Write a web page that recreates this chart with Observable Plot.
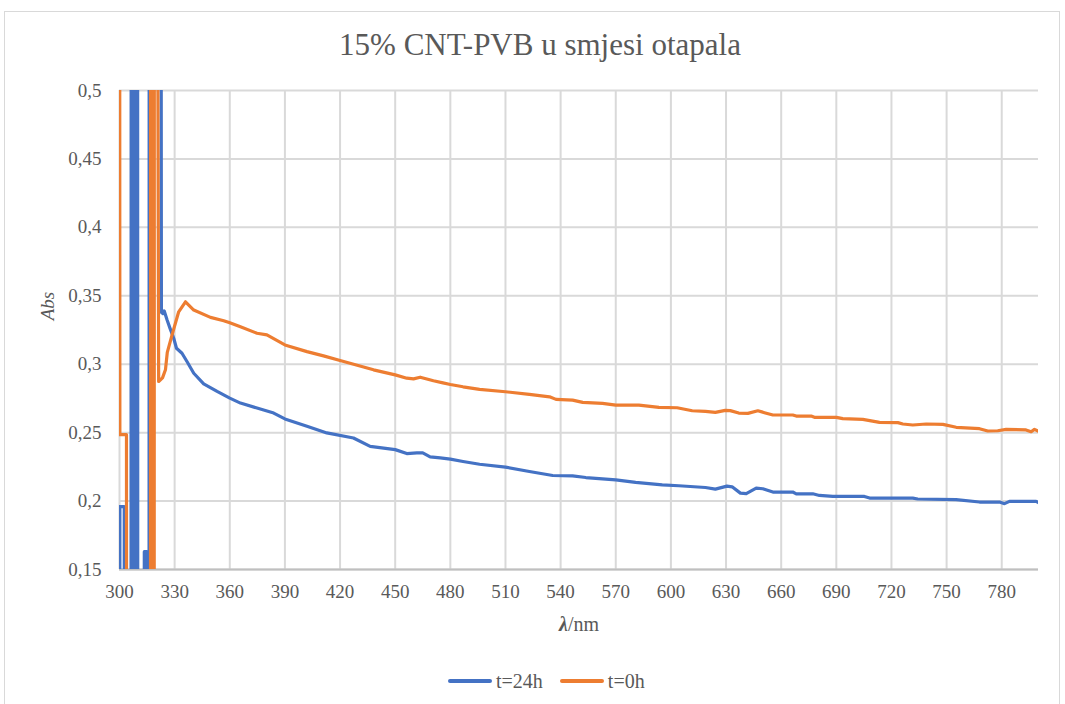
<!DOCTYPE html>
<html>
<head>
<meta charset="utf-8">
<script src="https://cdn.jsdelivr.net/npm/d3@7"></script>
<script src="https://cdn.jsdelivr.net/npm/@observablehq/plot@0.6"></script>
<style>
  @font-face { font-family: "ChartSerif"; src: local("Liberation Serif"), local("LiberationSerif"), local("LiberationSerif-Regular"); font-style: normal; font-weight: 400; }
  @font-face { font-family: "ChartSerif"; src: local("Liberation Serif Italic"), local("LiberationSerif-Italic"); font-style: italic; font-weight: 400; }
  @font-face { font-family: "ChartSerif"; src: local("Liberation Serif Bold Italic"), local("LiberationSerif-BoldItalic"); font-style: italic; font-weight: 700; }
  html, body { margin: 0; padding: 0; background: #fff; }
</style>
</head>
<body style='font-family:"Liberation Serif", "Times New Roman", Times;'>
<div id="wrap" style='position:relative;width:1065px;height:704px;overflow:hidden;color:#595959;font-family:"Liberation Serif", "ChartSerif", "Times New Roman", Times;'>
  <div style="position:absolute;left:4px;top:11px;width:1056px;height:720px;border:1px solid #d9d9d9;box-sizing:border-box;"></div>
  <div id="chart" style="position:absolute;left:0;top:0;"></div>
  <div id="title" style='position:absolute;left:0;top:30px;width:1080px;text-align:center;font-size:31px;line-height:30px;white-space:nowrap;font-family:"Liberation Serif", "ChartSerif", "Times New Roman", Times;'>15% CNT-PVB u smjesi otapala</div>
  <div id="ylabel" style='position:absolute;left:47px;top:306px;transform:translate(-50%,-50%) rotate(-90deg);font-size:19px;font-style:italic;line-height:19px;white-space:nowrap;font-family:"Liberation Serif", "ChartSerif", "Times New Roman", Times;'>Abs</div>
  <div id="xlabel" style='position:absolute;left:579px;top:614px;transform:translateX(-50%);font-size:20px;line-height:20px;white-space:nowrap;font-family:"Liberation Serif", "ChartSerif", "Times New Roman", Times;'><b style="font-style:italic;font-weight:bold;">λ</b>/nm</div>
  <div id="legend" style='position:absolute;left:448px;top:671px;display:flex;align-items:center;font-size:20px;line-height:20px;white-space:nowrap;font-family:"Liberation Serif", "ChartSerif", "Times New Roman", Times;'></div>
</div>
<script>
// ---- series names and colours ----
const seriesNames = ["t=24h", "t=0h"];
const seriesColors = ["#4472C4", "#ED7D31"];

// ---- axis ticks ----
const xTicks = [300, 330, 360, 390, 420, 450, 480, 510, 540, 570, 600, 630, 660, 690, 720, 750, 780];
const yTicks = [0.15, 0.2, 0.25, 0.3, 0.35, 0.4, 0.45, 0.5];
const xDomain = [300, 800];
const yDomain = [0.15, 0.5];

// ---- t=24h (values outside 0.15–0.5 are off-scale spikes, clipped) ----
const wl24 = [300, 300.2, 302.6, 302.8, 306.2, 306.4, 307.6, 307.8, 308.2, 308.4, 309.8, 310,
  313.3, 313.5, 314.9, 315.1, 316.0, 316.2, 322.4, 322.8, 323.6, 324.3, 325.9, 327.5, 329.5, 331,
  334, 336.7, 340.4, 345.8, 353.1, 360, 365.8, 374.8, 383.9, 390, 402, 412.8, 427.3, 436.4, 450,
  456.3, 461.8, 465, 469, 474.5, 480, 486.9, 495.9, 510, 523, 535.7, 546.5, 553.7, 570, 580.8,
  595.3, 604.3, 618.8, 624.2, 630.5, 633.3, 637.8, 641, 646.4, 650, 655.5, 666.3, 668.2, 677.2,
  680.8, 688.1, 705.3, 708.1, 731.6, 734.3, 755.2, 767.9, 778.8, 781.5, 784.2, 798.7, 800];
const abs24 = [-0.5, 0.196, 0.196, -0.5, -0.5, 1.0, 1.0, -0.5, -0.5, 1.0, 1.0, -0.5,
  -0.5, 0.163, 0.163, -0.5, -0.5, 1.0, 1.0, 0.338, 0.337, 0.339, 0.3323, 0.3262, 0.319, 0.3117,
  0.308, 0.302, 0.2934, 0.2857, 0.2801, 0.2752, 0.2716, 0.268, 0.2643, 0.26, 0.2546, 0.2498, 0.2461, 0.24, 0.2376,
  0.2347, 0.2352, 0.2352, 0.2323, 0.2315, 0.2306, 0.2289, 0.2269, 0.2248, 0.2216, 0.2187, 0.2184, 0.2172, 0.2155, 0.2136,
  0.2119, 0.2112, 0.2099, 0.2087, 0.2109, 0.2104, 0.2058, 0.2055, 0.2095, 0.209, 0.2066, 0.2066, 0.2053, 0.2053,
  0.2041, 0.2034, 0.2034, 0.2022, 0.2022, 0.2015, 0.201, 0.1993, 0.1993, 0.1981, 0.1998, 0.1998, 0.1988];

// ---- t=0h ----
const wl0 = [300, 300.2, 303.8, 304.0, 316.8, 317.0, 318.2, 318.4, 318.8, 319.0, 320.0, 321.3,
  323.4, 325, 326, 328.6, 332.2, 335.9, 340.4, 349.5, 356.7, 360, 365.8, 374.8, 380.2, 390, 402,
  411, 420, 438.2, 450, 456.3, 460, 463.6, 470.8, 476, 480, 486.9, 495.9, 510, 523, 534, 537.5,
  546.5, 552, 562.8, 570, 582.6, 593.5, 603.4, 611.6, 618.8, 624.2, 629.6, 632.3, 636.9, 641.9,
  647.3, 650.9, 655.5, 666.3, 668.2, 676.3, 678.1, 690, 693.5, 704.4, 713.5, 723.5, 726.2, 731.6,
  738.9, 748, 755.2, 767.9, 772.4, 777.8, 782.4, 793.2, 796, 797.8, 800];
const abs0 = [1.0, 0.2485, 0.2485, -0.5, -0.5, 1.0, 1.0, -0.5, -0.5, 1.0, 1.0, 0.2874,
  0.29, 0.2959, 0.3087, 0.3214, 0.3383, 0.3456, 0.3396, 0.3342, 0.3318, 0.3303, 0.3274, 0.3226, 0.3214, 0.3141, 0.3092,
  0.3061, 0.3027, 0.2959, 0.2922, 0.2898, 0.2893, 0.2905, 0.2879, 0.2864, 0.2852, 0.2835, 0.2816, 0.2799, 0.2779, 0.2762, 0.2743,
  0.2738, 0.2721, 0.2714, 0.2701, 0.2701, 0.2684, 0.2682, 0.266, 0.2655, 0.2648, 0.2663, 0.2661, 0.2643, 0.2641,
  0.266, 0.2646, 0.2629, 0.2629, 0.2621, 0.2621, 0.2612, 0.2612, 0.2602, 0.2597, 0.2575, 0.2573, 0.2563, 0.2556,
  0.2563, 0.256, 0.2539, 0.2529, 0.2512, 0.2514, 0.2524, 0.252, 0.2507, 0.2524, 0.251];

const data24 = wl24.map((w, i) => ({wl: w, abs: abs24[i]}));
const data0 = wl0.map((w, i) => ({wl: w, abs: abs0[i]}));

const fmtY = d => String(+d.toFixed(2)).replace(".", ",");
const fontStack = '"Liberation Serif", "ChartSerif", "Times New Roman", Times';

const chart = Plot.plot({
  width: 1065,
  height: 640,
  marginLeft: 119,
  marginRight: 27,
  marginTop: 90,
  marginBottom: 71,
  style: {fontFamily: fontStack, fontSize: "19px", color: "#595959", background: "transparent", overflow: "visible"},
  x: {domain: xDomain, label: null},
  y: {domain: yDomain, label: null},
  marks: [
    Plot.gridX(xTicks, {stroke: "#d9d9d9", strokeOpacity: 1, strokeWidth: 2}),
    Plot.gridY(yTicks, {stroke: "#d9d9d9", strokeOpacity: 1, strokeWidth: 2}),
    Plot.ruleY([yDomain[0]], {stroke: "#bfbfbf", strokeWidth: 2}),
    Plot.axisX(xTicks, {tickSize: 0, tickPadding: 15, tickFormat: d => String(d), fill: "#595959", fontSize: 19, label: null}),
    Plot.axisY(yTicks, {tickSize: 0, tickPadding: 18, tickFormat: fmtY, fill: "#595959", fontSize: 19, label: null}),
    Plot.line(data24, {x: "wl", y: "abs", stroke: seriesColors[0], strokeWidth: 3.2, clip: true, strokeLinejoin: "round"}),
    Plot.line(data0, {x: "wl", y: "abs", stroke: seriesColors[1], strokeWidth: 3.2, clip: true, strokeLinejoin: "round"})
  ]
});
chart.setAttribute("font-family", fontStack);
document.getElementById("chart").appendChild(chart);

const legend = document.getElementById("legend");
seriesNames.forEach((name, i) => {
  const it = document.createElement("div");
  it.style.cssText = "display:flex;align-items:center;margin-right:17px;";
  const sw = document.createElement("div");
  sw.style.cssText = "width:44px;height:3.5px;border-radius:2px;margin-right:4px;background:" + seriesColors[i] + ";";
  const tx = document.createElement("span");
  tx.textContent = name;
  it.appendChild(sw);
  it.appendChild(tx);
  legend.appendChild(it);
});
</script>
</body>
</html>
